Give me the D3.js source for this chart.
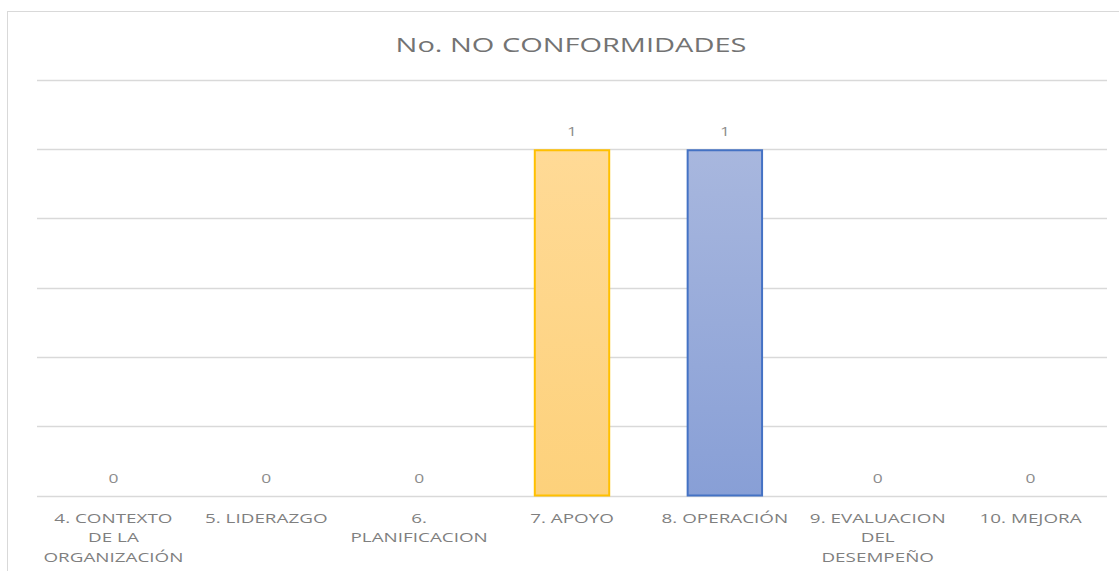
<!DOCTYPE html>
<html>
<head>
<meta charset="utf-8">
<script src="https://cdn.jsdelivr.net/npm/d3@7"></script>
<style>
  body { margin: 0; background: #fff; }
  text { font-family: "Open Sans", "Liberation Sans", sans-serif; fill: #7f7f7f; }
</style>
</head>
<body>
<div id="chart"></div>
<script>
// Data
var categories = ["4. CONTEXTO DE LA ORGANIZACIÓN", "5. LIDERAZGO", "6. PLANIFICACION", "7. APOYO", "8. OPERACIÓN", "9. EVALUACION DEL DESEMPEÑO", "10. MEJORA"];
var tickLines = [["4. CONTEXTO", "DE LA", "ORGANIZACIÓN"], ["5. LIDERAZGO"], ["6.", "PLANIFICACION"], ["7. APOYO"], ["8. OPERACIÓN"], ["9. EVALUACION", "DEL", "DESEMPEÑO"], ["10. MEJORA"]];
var values = [0, 0, 0, 1, 1, 0, 0];
var yTicks = [0, 0.2, 0.4, 0.6, 0.8, 1, 1.2];
var title = "No. NO CONFORMIDADES";

var width = 1119, height = 571;
var margin = {left: 37, right: 12, top: 80, bottom: 75};
var stretch = 1.45; // the picture's text is widened horizontally

var svg = d3.select("#chart").append("svg")
    .attr("width", width)
    .attr("height", height);

// Gradients for the two coloured bars
var defs = svg.append("defs");
function grad(id, top, bottom) {
    var g = defs.append("linearGradient").attr("id", id)
        .attr("x1", 0).attr("y1", 0).attr("x2", 0).attr("y2", 1);
    g.append("stop").attr("offset", "0%").attr("stop-color", top);
    g.append("stop").attr("offset", "100%").attr("stop-color", bottom);
}
grad("gYellow", "#ffda96", "#fdd17b");
grad("gBlue", "#a8b7de", "#889fd6");

// Chart frame
svg.append("rect")
    .attr("x", 7.5).attr("y", 11.5)
    .attr("width", width + 10).attr("height", height + 10)
    .attr("fill", "none")
    .attr("stroke", "#d9d9d9");

var x = d3.scaleBand()
    .domain(categories)
    .range([margin.left, width - margin.right])
    .paddingInner(0.5)
    .paddingOuter(0.25);

var y = d3.scaleLinear()
    .domain([0, 1.2])
    .range([height - margin.bottom - 0.5, margin.top]);

// Gridlines
svg.append("g")
    .selectAll("line")
    .data(yTicks)
    .enter()
    .append("line")
    .attr("x1", margin.left)
    .attr("x2", width - margin.right)
    .attr("y1", function(d) { return Math.round(y(d)) + 0.5; })
    .attr("y2", function(d) { return Math.round(y(d)) + 0.5; })
    .attr("stroke", "#d9d9d9")
    .attr("stroke-width", 1.3);

// Bars
var fills = ["none", "none", "none", "url(#gYellow)", "url(#gBlue)", "none", "none"];
var strokes = ["none", "none", "none", "#ffc000", "#4472c4", "none", "none"];
var barData = categories.map(function(c, i) { return {c: c, v: values[i], i: i}; })
    .filter(function(d) { return d.v > 0; });

svg.append("g")
    .selectAll("rect")
    .data(barData)
    .enter()
    .append("rect")
    .attr("x", function(d) { return x(d.c) + 1; })
    .attr("y", function(d) { return y(d.v) + 1; })
    .attr("width", x.bandwidth() - 2)
    .attr("height", function(d) { return y(0) - y(d.v) - 1; })
    .attr("fill", function(d) { return fills[d.i]; })
    .attr("stroke", function(d) { return strokes[d.i]; })
    .attr("stroke-width", 2);

// Data labels
svg.append("g")
    .selectAll("text")
    .data(categories)
    .enter()
    .append("text")
    .attr("transform", function(d, i) {
        return "translate(" + (x(d) + x.bandwidth() / 2) + "," + (y(values[i]) - 13) + ") scale(" + stretch + ",1)";
    })
    .attr("text-anchor", "middle")
    .style("font-size", "12px")
    .style("fill", "#8c8c8c")
    .text(function(d, i) { return values[i]; });

// Category labels
var xl = svg.append("g");
categories.forEach(function(c, i) {
    var t = xl.append("text")
        .attr("transform", "translate(" + (x(c) + x.bandwidth() / 2) + "," + (y(0) + 27) + ") scale(" + stretch + ",1)")
        .attr("text-anchor", "middle")
        .style("font-size", "13px");
    tickLines[i].forEach(function(line, j) {
        t.append("tspan")
            .attr("x", 0)
            .attr("dy", j === 0 ? 0 : 20)
            .text(line);
    });
});

// Title
svg.append("text")
    .attr("transform", "translate(571,52) scale(" + stretch + ",1)")
    .attr("text-anchor", "middle")
    .style("font-size", "20px")
    .style("fill", "#737373")
    .text(title);
</script>
</body>
</html>
